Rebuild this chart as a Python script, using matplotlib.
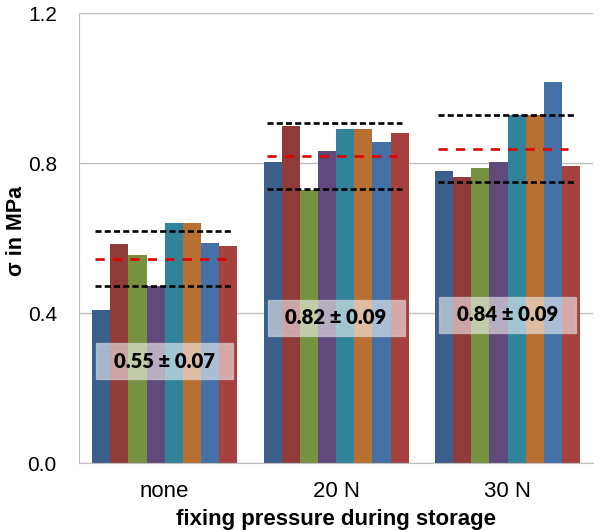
# sigma por presion de fijacion: 8 muestras por grupo, media +- desviacion

import matplotlib.pyplot as plt
from matplotlib.patches import Rectangle

plt.rcParams['font.family'] = ['Liberation Sans', 'DejaVu Sans']

# datos
categorias = ['none', '20 N', '30 N']
valores = [
    [0.408, 0.583, 0.555, 0.473, 0.639, 0.639, 0.586, 0.580],
    [0.803, 0.899, 0.728, 0.833, 0.890, 0.890, 0.855, 0.879],
    [0.779, 0.764, 0.788, 0.804, 0.928, 0.928, 1.015, 0.792],
]
medias = [0.545, 0.819, 0.837]
sup = [0.620, 0.906, 0.928]   # linea negra superior
inf = [0.472, 0.730, 0.749]   # linea negra inferior
etiquetas = ['0.55 ± 0.07', '0.82 ± 0.09', '0.84 ± 0.09']
etiqueta_y = [0.272, 0.388, 0.395]

colores = ['#3B5E8B', '#8F3B3A', '#76913F', '#5F4A7B',
           '#31839A', '#B86F32', '#4570A6', '#A5423F']

fig = plt.figure(figsize=(6, 5.3), dpi=100)
ax = fig.add_axes([0.1317, 0.1264, 0.857, 0.849])

n = len(colores)
w = 0.1058   # ancho barra
for i, vals in enumerate(valores):
    for j, v in enumerate(vals):
        x = i + (j - (n - 1) / 2) * w
        ax.bar(x, v, width=w, color=colores[j], zorder=2)

    # lineas discontinuas
    ax.hlines([sup[i], inf[i]], i - 0.405, i + 0.385, colors='black',
              linewidth=1.9, linestyles=(0, (2.3, 1.2)), zorder=3)
    ax.hlines(medias[i], i - 0.405, i + 0.355, colors='#E00000',
              linewidth=1.9, linestyles=(0, (3.5, 3.1)), zorder=3)

    # caja con el valor
    bw = 0.80
    bh = 0.096
    ax.add_patch(Rectangle((i - bw / 2, etiqueta_y[i] - bh / 2), bw, bh,
                           facecolor='white', alpha=0.55,
                           edgecolor='#DDDDDD', linewidth=1, zorder=4))
    ax.text(i, etiqueta_y[i], etiquetas[i], ha='center', va='center',
            fontsize=14.6, fontweight='heavy', family=['Lato', 'DejaVu Sans'],
            color='black', zorder=5)

ax.set_xlim(-0.5, 2.5)
ax.set_ylim(0, 1.2)
ax.set_yticks([0.0, 0.4, 0.8, 1.2])
ax.set_yticklabels(['0.0', '0.4', '0.8', '1.2'])
ax.set_xticks(range(3))
ax.set_xticklabels(categorias)
ax.tick_params(axis='x', length=0, labelsize=16, pad=13)
ax.tick_params(axis='y', length=0, labelsize=15, pad=16)

ax.yaxis.grid(True, color='#BFBFBF', linewidth=1)
ax.set_axisbelow(True)
for s in ['top', 'right']:
    ax.spines[s].set_visible(False)
ax.spines['left'].set_color('#BFBFBF')
ax.spines['bottom'].set_color('#BFBFBF')

ax.set_ylabel('σ in MPa', fontsize=15.5, fontweight='bold')
ax.yaxis.set_label_coords(-0.101, 0.516)
ax.set_xlabel('fixing pressure during storage', fontsize=16,
              fontweight='bold', labelpad=5)

fig.savefig('out.png', dpi=100)
